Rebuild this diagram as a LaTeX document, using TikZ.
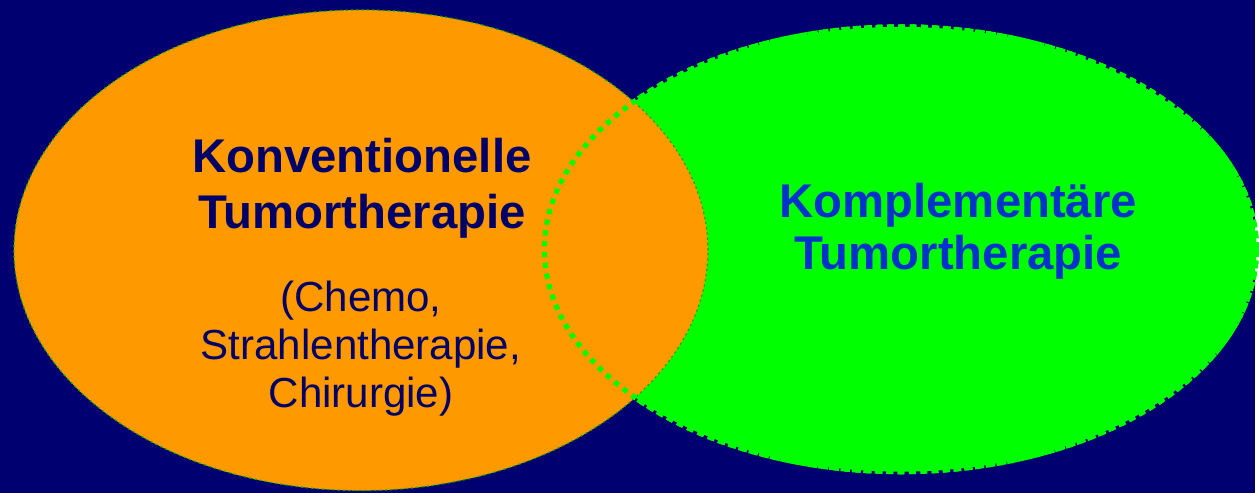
\documentclass[tikz,border=0pt]{standalone}
\usepackage{fontspec}
\setmainfont{Liberation Sans}
\definecolor{navybg}{HTML}{000070}
\definecolor{konvorange}{HTML}{FF9900}
\definecolor{komplgreen}{HTML}{00FF00}
\definecolor{konvtext}{HTML}{000066}
\definecolor{kompltext}{HTML}{0033CC}
\begin{document}
\begin{tikzpicture}[
    titel/.style={anchor=base,font=\fontsize{27}{32}\selectfont\bfseries},
    liste/.style={anchor=base,font=\fontsize{24}{29}\selectfont,text=konvtext}]
    \fill[navybg] (0,0) rectangle (25.18,9.88);
    % komplementaer
    \fill[komplgreen] (18.06,4.88) ellipse [x radius=7.14, y radius=4.46];
    \draw[komplgreen,line width=3pt,dash pattern=on 4pt off 2.5pt] (18.06,4.88) ellipse [x radius=7.14, y radius=4.46];
    % konventionell
    \fill[konvorange] (7.24,4.86) ellipse [x radius=6.96, y radius=4.82];
    \draw[komplgreen!70!black,line width=0.7pt,dash pattern=on 1.2pt off 1.8pt] (7.24,4.86) ellipse [x radius=6.96, y radius=4.82];
    \draw[komplgreen,line width=3pt,dash pattern=on 3pt off 3.2pt] (18.06,4.88) ellipse [x radius=7.14, y radius=4.46];
    \node[titel,text=konvtext] (konv1) at (7.26,6.42) {Konventionelle};
    \node[titel,text=konvtext] (konv2) at (7.26,5.30) {Tumortherapie};
    \node[liste] (chemo) at (7.24,3.64) {(Chemo,};
    \node[liste] (strahl) at (7.24,2.66) {Strahlentherapie,};
    \node[liste] (chir) at (7.24,1.70) {Chirurgie)};
    \node[titel,text=kompltext] (kompl1) at (19.22,5.52) {Komplementäre};
    \node[titel,text=kompltext] (kompl2) at (19.22,4.48) {Tumortherapie};
\end{tikzpicture}
\end{document}
